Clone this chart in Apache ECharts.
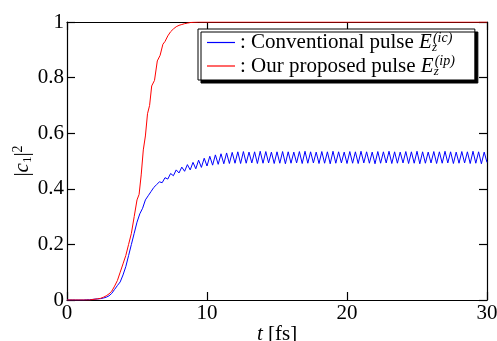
<!DOCTYPE html>
<html>
<head>
<meta charset="utf-8">
<script src="https://cdn.jsdelivr.net/npm/echarts@6/dist/echarts.min.js"></script>
<style>
  html, body { margin: 0; padding: 0; background: #fff; }
  #chart { width: 497px; height: 341px; }
</style>
</head>
<body>
<div id="chart"></div>
<script>
// tiempo en fs, muestreo de la curva azul cada 0.2 fs
const tStep = 0.2;
const xTicks = [0, 10, 20, 30];
const yTicks = [0, 0.2, 0.4, 0.6, 0.8, 1];

// pulso convencional |c1|^2 (t = 0 .. 30 fs)
const blueY = [
  0, 0, 0, 0, 0, 0, 0, 0.001, 0.001, 0.002, 0.003,
  0.004, 0.005, 0.007, 0.01, 0.015, 0.024, 0.038, 0.052, 0.065, 0.09, 0.12,
  0.16, 0.2, 0.24, 0.28, 0.31, 0.33, 0.36, 0.375, 0.39, 0.405, 0.415,
  0.425, 0.422, 0.44, 0.435, 0.455, 0.447, 0.468, 0.457, 0.478, 0.463, 0.487,
  0.468, 0.495, 0.472, 0.503, 0.477, 0.51, 0.482, 0.517, 0.485, 0.522, 0.488,
  0.526, 0.49, 0.529, 0.491, 0.531, 0.492,
  0.533, 0.491, 0.534, 0.492, 0.532, 0.493, 0.533, 0.491, 0.535, 0.492,
  0.534, 0.493, 0.532, 0.491, 0.533, 0.492, 0.534, 0.490, 0.533, 0.492,
  0.532, 0.493, 0.534, 0.491, 0.535, 0.492, 0.533, 0.493, 0.532, 0.491,
  0.534, 0.492, 0.533, 0.490, 0.535, 0.492, 0.533, 0.493, 0.532, 0.491,
  0.534, 0.492, 0.533, 0.491, 0.535, 0.493, 0.533, 0.492, 0.532, 0.490,
  0.534, 0.492, 0.533, 0.493, 0.535, 0.491, 0.533, 0.492, 0.532, 0.493,
  0.534, 0.491, 0.533, 0.492, 0.535, 0.490, 0.533, 0.492, 0.532, 0.493,
  0.534, 0.491, 0.533, 0.492, 0.535, 0.493, 0.533, 0.491, 0.532, 0.492,
  0.534, 0.493, 0.533, 0.491, 0.535, 0.492, 0.533, 0.490, 0.532, 0.495
];

// pulso propuesto |c1|^2
const redT = [0, 1.6, 2.0, 2.2, 2.4, 2.6, 2.8, 3.0, 3.2, 3.4, 3.6, 3.8, 4.0, 4.2, 4.4, 4.6, 4.8,
  5.0, 5.15, 5.3, 5.45, 5.6, 5.75, 5.9, 6.05, 6.25, 6.45, 6.65, 6.85, 7.0, 7.2, 7.4, 7.6, 7.8,
  8.0, 8.2, 8.4, 8.6, 8.8, 9.0, 9.4, 30];
const redY = [0, 0, 0.003, 0.004, 0.006, 0.01, 0.015, 0.022, 0.032, 0.05, 0.07, 0.1, 0.13, 0.16, 0.2, 0.24, 0.3,
  0.36, 0.38, 0.45, 0.54, 0.59, 0.67, 0.7, 0.77, 0.79, 0.86, 0.88, 0.92, 0.93, 0.95, 0.965, 0.975, 0.983,
  0.988, 0.991, 0.994, 0.996, 0.998, 0.999, 1, 1];

const blueData = blueY.map((y, i) => [+(i * tStep).toFixed(2), y]);
const redData = redT.map((t, i) => [t, redY[i]]);

const serif = 'Liberation Serif';
const frame = { onZero: false, lineStyle: { color: '#000', width: 1.2 } };
const ticksIn = { show: true, inside: true, length: 8, lineStyle: { color: '#000', width: 1.2 } };

const chart = echarts.init(document.getElementById('chart'), null, { renderer: 'canvas' });
chart.setOption({
  animation: false,
  grid: { left: 67, right: 10, top: 22, bottom: 41, containLabel: false, outerBoundsMode: 'none' },
  legend: {
    left: 198, top: 29, orient: 'vertical',
    padding: [2, 20, 2, 9], itemGap: 0,
    icon: 'rect', itemWidth: 28, itemHeight: 1.2, itemTextGap: 2,
    backgroundColor: '#fff', borderColor: '#000', borderWidth: 1,
    shadowColor: '#000', shadowBlur: 0, shadowOffsetX: 3, shadowOffsetY: 3,
    data: ['conv', 'prop'],
    formatter: (name) => name === 'conv'
      ? '{t|: Conventional pulse }{e|E}{sub|z}{sup|(ic)}'
      : '{t|: Our proposed pulse }{e|E}{sub|z}{sup|(ip)}',
    textStyle: {
      fontFamily: serif, fontSize: 21, color: '#000',
      rich: {
        t: { fontFamily: serif, fontSize: 21, color: '#000' },
        e: { fontFamily: serif, fontSize: 21, fontStyle: 'italic', color: '#000' },
        sub: { fontFamily: serif, fontSize: 13, fontStyle: 'italic', color: '#000', width: 1, padding: [11, 0, 0, 0] },
        sup: { fontFamily: serif, fontSize: 14, fontStyle: 'italic', color: '#000', padding: [0, 0, 9, 0] }
      }
    }
  },
  xAxis: [{
    type: 'value', min: 0, max: 30, interval: 10,
    axisLine: frame, axisTick: ticksIn, splitLine: { show: false },
    axisLabel: { fontFamily: serif, fontSize: 21, color: '#000', margin: 3 },
    name: '{i|t} [fs]', nameLocation: 'middle', nameGap: 24, nameMoveOverlap: false,
    nameTextStyle: {
      fontFamily: serif, fontSize: 21, color: '#000',
      rich: { i: { fontFamily: serif, fontSize: 21, fontStyle: 'italic', color: '#000' } }
    }
  }, {
    type: 'value', position: 'top', min: 0, max: 30, interval: 10,
    axisLine: frame, axisTick: ticksIn, axisLabel: { show: false }, splitLine: { show: false }
  }],
  yAxis: [{
    type: 'value', min: 0, max: 1, interval: 0.2,
    axisLine: frame, axisTick: ticksIn, splitLine: { show: false },
    axisLabel: {
      fontFamily: serif, fontSize: 21, color: '#000', margin: 3,
      formatter: (v) => yTicks.includes(+v.toFixed(1)) ? String(+v.toFixed(1)) : ''
    },
    name: '{n||}{c|c}{sub|1}{n||}{sup|2}', nameLocation: 'middle', nameGap: 33, nameMoveOverlap: false,
    nameTextStyle: {
      fontFamily: serif, fontSize: 21, color: '#000',
      rich: {
        n: { fontFamily: serif, fontSize: 21, color: '#000' },
        c: { fontFamily: serif, fontSize: 21, fontStyle: 'italic', color: '#000' },
        sub: { fontFamily: serif, fontSize: 13, color: '#000', padding: [10, 0, 0, 0] },
        sup: { fontFamily: serif, fontSize: 14, color: '#000', padding: [0, 0, 9, 0] }
      }
    }
  }, {
    type: 'value', position: 'right', min: 0, max: 1, interval: 0.2,
    axisLine: frame, axisTick: ticksIn, axisLabel: { show: false }, splitLine: { show: false }
  }],
  series: [{
    name: 'conv', type: 'line', data: blueData, showSymbol: false,
    lineStyle: { color: '#0000ff', width: 1 }, itemStyle: { color: '#0000ff' }, z: 3
  }, {
    name: 'prop', type: 'line', data: redData, showSymbol: false,
    lineStyle: { color: '#ff0000', width: 1 }, itemStyle: { color: '#ff0000' }, z: 4
  }]
});
</script>
</body>
</html>
